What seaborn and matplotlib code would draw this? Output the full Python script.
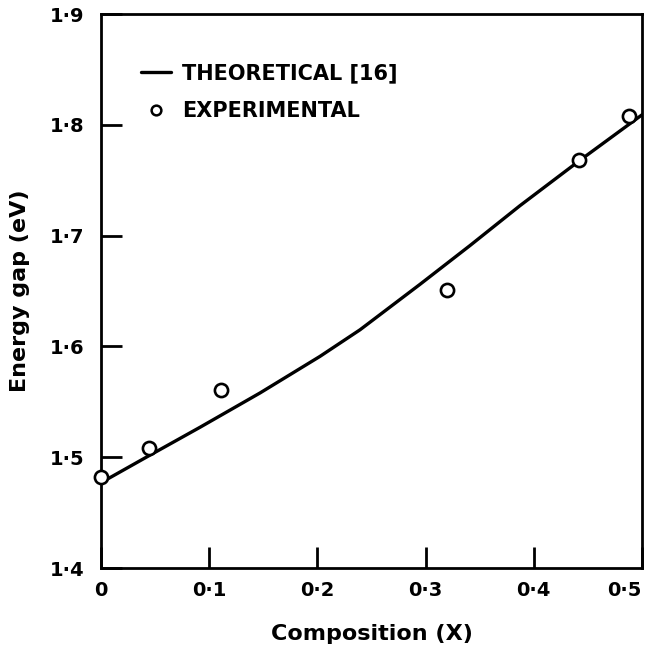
import matplotlib
matplotlib.use("Agg")
import matplotlib.pyplot as plt
import seaborn as sns
import pandas as pd
from matplotlib.lines import Line2D

# Theoretical curve [16]
theory_x = [0.0, 0.0437, 0.0915, 0.147, 0.2024, 0.2394, 0.2948, 0.341, 0.3872, 0.4427, 0.5]
theory_y = [1.477, 1.501, 1.527, 1.558, 1.591, 1.615, 1.656, 1.691, 1.727, 1.768, 1.809]

# Experimental points
exp_x = [0.0, 0.0444, 0.1108, 0.320, 0.442, 0.488]
exp_y = [1.482, 1.508, 1.561, 1.651, 1.768, 1.808]

x_ticks = [0.0, 0.1, 0.2, 0.3, 0.4, 0.5]
x_tick_labels = ["0", "0·1", "0·2", "0·3", "0·4", "0·5"]
y_ticks = [1.4, 1.5, 1.6, 1.7, 1.8, 1.9]
y_tick_labels = ["1·4", "1·5", "1·6", "1·7", "1·8", "1·9"]

sns.set_theme(style="white")
plt.rcParams["font.family"] = ["DejaVu Sans"]
plt.rcParams["font.weight"] = "bold"

fig = plt.figure(figsize=(6.57, 6.46), dpi=100)
ax = fig.add_axes([101/657, 1 - 568/646, (642 - 101)/657, (568 - 14)/646])

df_t = pd.DataFrame({"x": theory_x, "y": theory_y})
df_e = pd.DataFrame({"x": exp_x, "y": exp_y})

sns.lineplot(data=df_t, x="x", y="y", ax=ax, color="black", linewidth=2.4,
             sort=True, estimator=None, zorder=2)
sns.scatterplot(data=df_e, x="x", y="y", ax=ax, marker="o", s=90,
                facecolor="white", edgecolor="black", linewidth=1.9, zorder=3,
                clip_on=False)

ax.set_xlim(0, 0.5)
ax.set_ylim(1.4, 1.9)
ax.set_xticks(x_ticks)
ax.set_xticklabels(x_tick_labels, fontweight="bold")
ax.set_yticks(y_ticks)
ax.set_yticklabels(y_tick_labels, fontweight="bold")

ax.tick_params(axis="both", which="both", direction="in", length=15, width=2,
               color="black", labelsize=14, labelcolor="black",
               top=False, right=False, bottom=True, left=True)
ax.tick_params(axis="x", pad=9)
ax.tick_params(axis="y", pad=12)
# last x label sits inside the figure, right-aligned to the frame
ax.get_xticklabels()[-1].set_horizontalalignment("right")
ax.get_xticklabels()[-1].set_x(0.5)
for s in ax.spines.values():
    s.set_visible(True)
    s.set_color("black")
    s.set_linewidth(2)

ax.set_xlabel("Composition (X)", fontsize=16, fontweight="bold", color="black", labelpad=18)
ax.set_ylabel("Energy gap (eV)", fontsize=16, fontweight="bold", color="black", labelpad=14)
ax.grid(False)

handles = [
    Line2D([0], [0], color="black", linewidth=2.4),
    Line2D([0], [0], marker="o", linestyle="none", markersize=7,
           markerfacecolor="white", markeredgecolor="black", markeredgewidth=1.8),
]
leg = ax.legend(handles, ["THEORETICAL [16]", "EXPERIMENTAL"], loc="upper left",
                bbox_to_anchor=(0.04, 0.945), frameon=False,
                prop={"size": 15, "weight": "bold"},
                handlelength=1.4, handletextpad=0.55, labelspacing=0.85)
for t in leg.get_texts():
    t.set_color("black")

fig.savefig("out.png", dpi=100, facecolor="white")
